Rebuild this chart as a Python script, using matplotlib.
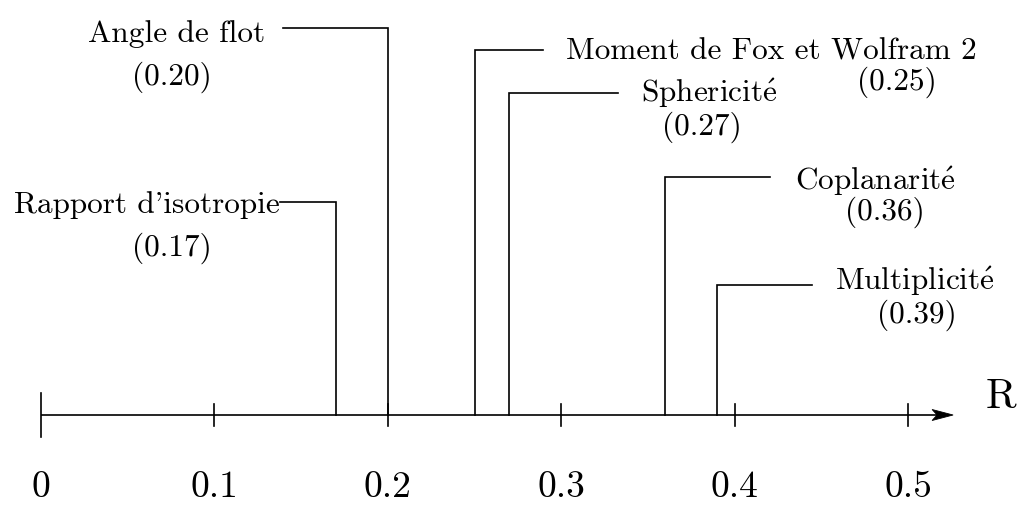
import matplotlib
matplotlib.use("Agg")
import matplotlib.pyplot as plt
from matplotlib.patches import Polygon

# ---- data -------------------------------------------------------------
names = ["Rapport d'isotropie", "Angle de flot", "Moment de Fox et Wolfram 2",
         r"Spheric$\mathrm{it\acute{e}}$", r"Coplanar$\mathrm{it\acute{e}}$",
         r"Multiplic$\mathrm{it\acute{e}}$"]
values = [0.17, 0.20, 0.25, 0.27, 0.36, 0.39]
value_labels = ["(0.17)", "(0.20)", "(0.25)", "(0.27)", "(0.36)", "(0.39)"]
tick_values = [0.0, 0.1, 0.2, 0.3, 0.4, 0.5]
tick_labels = ["0", "0.1", "0.2", "0.3", "0.4", "0.5"]
axis_name = "R"

# ---- layout (x in R units, y in pixels above the bottom edge) ----------
W, H, DPI = 1018, 505, 100
X0_PX, SCALE = 41, 1734.0          # pixel of R=0, pixels per unit R
AXIS_Y = 90
leader_y = [303, 477, 455.5, 412.5, 328, 220]
leader_end = [0.1378, 0.1396, 0.2895, 0.3328, 0.4204, 0.4446]
name_x = [0.1378, 0.1292, 0.3028, 0.3460, 0.4348, 0.4579]
name_ha = ["right", "right", "left", "left", "left", "left"]
name_base = [292, 463, 446, 403, 315, 215]
val_x = [0.0755, 0.0755, 0.4937, 0.3812, 0.4867, 0.5052]
val_base = [249.5, 420.5, 415.5, 370.5, 285.5, 182.5]
arrow_tip = 0.526

plt.rcParams["font.family"] = ["cmr10", "DejaVu Serif"]
plt.rcParams["mathtext.fontset"] = "cm"
LW = 1.2
FS = 22.5

fig = plt.figure(figsize=(W / DPI, H / DPI), dpi=DPI)
ax = fig.add_axes([0, 0, 1, 1])
ax.set_xlim(-X0_PX / SCALE, (W - X0_PX) / SCALE)
ax.set_ylim(0, H)
ax.axis("off")

# horizontal axis with arrow head
px = 1.0 / SCALE
ax.plot([0, arrow_tip - 15 * px], [AXIS_Y, AXIS_Y], color="black", lw=LW,
        solid_capstyle="butt")
head = Polygon([(arrow_tip, AXIS_Y), (arrow_tip - 21 * px, AXIS_Y + 5.5),
                (arrow_tip - 16 * px, AXIS_Y), (arrow_tip - 21 * px, AXIS_Y - 5.5)],
               closed=True, facecolor="black", edgecolor="black", lw=0.6)
ax.add_patch(head)
ax.text(arrow_tip + 33 * px, AXIS_Y + 7, axis_name, fontsize=30,
        ha="left", va="baseline")

# ticks and tick labels
for t, lab in zip(tick_values, tick_labels):
    half = 22 if t == 0 else 11
    ax.plot([t, t], [AXIS_Y - half, AXIS_Y + half], color="black", lw=LW)
    ax.text(t, 1, lab, fontsize=27, ha="center", va="bottom")

# value markers with leaders and labels
for v, n, vl, ly, le, nx, nha, nb, vx, vb in zip(
        values, names, value_labels, leader_y, leader_end,
        name_x, name_ha, name_base, val_x, val_base):
    ax.plot([v, v, le], [AXIS_Y, ly, ly], color="black", lw=LW,
            solid_joinstyle="miter")
    ax.text(nx, nb, n, fontsize=FS, ha=nha, va="baseline")
    ax.text(vx, vb, vl, fontsize=FS, ha="center", va="baseline")

fig.savefig("out.png", dpi=DPI, facecolor="white")
